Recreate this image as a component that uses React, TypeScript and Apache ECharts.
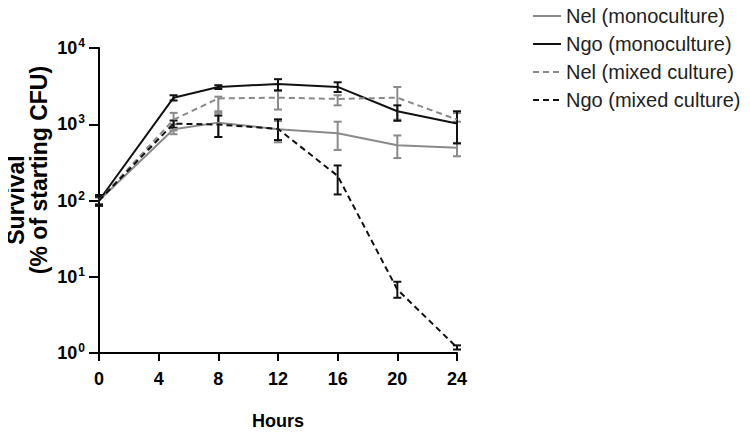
import React, { useEffect, useRef } from "react";
import * as echarts from "echarts";

const hours = [0, 5, 8, 12, 16, 20, 24];
const xTicks = [0, 4, 8, 12, 16, 20, 24];

const nelMono = [100, 860, 1050, 860, 760, 532, 490];
const nelMonoLow = [90, 740, 680, 580, 460, 360, 380];
const nelMonoHigh = [110, 1000, 1400, 1100, 1080, 713, 570];

const ngoMono = [100, 2230, 3080, 3380, 3090, 1480, 1020];
const ngoMonoLow = [85, 2050, 2900, 2780, 2650, 1110, 560];
const ngoMonoHigh = [118, 2400, 3250, 3900, 3550, 1770, 1480];

const nelMixed = [100, 1150, 2180, 2230, 2150, 2230, 1150];
const nelMixedLow = [90, 830, 1480, 1560, 1770, 1150, 1080];
const nelMixedHigh = [110, 1410, 2300, 2750, 2400, 3080, 1400];

const ngoMixed = [100, 1020, 990, 870, 210, 6.8, 1.18];
const ngoMixedLow = [88, 900, 680, 620, 120, 5.3, 1.11];
const ngoMixedHigh = [112, 1120, 1300, 1160, 288, 8.6, 1.26];

const seriesNames = [
  "Nel (monoculture)",
  "Ngo (monoculture)",
  "Nel (mixed culture)",
  "Ngo (mixed culture)",
];
const yTitleLines = ["Survival", "(% of starting CFU)"];

const GREY = "#8a8a8a";
const BLACK = "#111111";
const FONT = "Liberation Sans, Arial, sans-serif";

function errSeries(low: number[], high: number[], color: string) {
  return {
    type: "custom",
    silent: true,
    z: 3,
    data: hours.map((h, i) => [h, low[i], high[i]]),
    renderItem: (params: any, api: any) => {
      const x = api.value(0);
      const lo = api.coord([x, api.value(1)]);
      const hi = api.coord([x, api.value(2)]);
      const w = 4;
      const style = { stroke: color, lineWidth: 2, fill: "none" };
      return {
        type: "group",
        children: [
          { type: "line", shape: { x1: lo[0], y1: lo[1], x2: hi[0], y2: hi[1] }, style },
          { type: "line", shape: { x1: lo[0] - w, y1: lo[1], x2: lo[0] + w, y2: lo[1] }, style },
          { type: "line", shape: { x1: hi[0] - w, y1: hi[1], x2: hi[0] + w, y2: hi[1] }, style },
        ],
      };
    },
  };
}

function lineSeries(name: string, vals: number[], color: string, dashed: boolean) {
  return {
    name,
    type: "line",
    data: hours.map((h, i) => [h, vals[i]]),
    symbol: "none",
    z: 4,
    lineStyle: {
      color,
      width: 2,
      type: dashed ? [6, 4] : "solid",
    },
    itemStyle: { color },
  };
}

export default function App() {
  const ref = useRef<HTMLDivElement>(null);
  useEffect(() => {
    if (!ref.current) return;
    const chart = echarts.init(ref.current, undefined, { renderer: "svg" });
    const titleFont = `bold 23px ${FONT}`;
    chart.setOption({
      animation: false,
      textStyle: { fontFamily: FONT },
      grid: { left: 99, right: 293, top: 48, bottom: 72 },
      legend: {
        orient: "vertical",
        left: 532,
        top: 6,
        padding: 0,
        itemWidth: 28,
        itemHeight: 14,
        itemGap: 8,
        data: seriesNames,
        itemStyle: { opacity: 0 },
        textStyle: { fontSize: 20, color: "#222", fontFamily: FONT },
      },
      graphic: [
        {
          type: "text",
          x: 15.5,
          y: 200,
          rotation: Math.PI / 2,
          style: {
            text: yTitleLines[0],
            font: titleFont,
            fill: "#000",
            align: "center",
            verticalAlign: "middle",
          },
        },
        {
          type: "text",
          x: 39,
          y: 170,
          rotation: Math.PI / 2,
          style: {
            text: yTitleLines[1],
            font: titleFont,
            fill: "#000",
            align: "center",
            verticalAlign: "middle",
          },
        },
      ],
      xAxis: {
        type: "value",
        min: 0,
        max: 24,
        interval: 4,
        name: "Hours",
        nameLocation: "middle",
        nameGap: 59,
        nameTextStyle: { fontSize: 18, fontWeight: "bold", color: "#000" },
        axisLine: { lineStyle: { color: "#000", width: 2 } },
        axisTick: { length: 8, lineStyle: { color: "#000", width: 2 } },
        axisLabel: {
          fontSize: 18,
          fontWeight: "bold",
          color: "#000",
          margin: 17,
          customValues: xTicks,
        },
        splitLine: { show: false },
      },
      yAxis: {
        type: "log",
        logBase: 10,
        min: 1,
        max: 10000,
        axisLine: { show: true, lineStyle: { color: "#000", width: 2 } },
        axisTick: { show: true, length: 10, lineStyle: { color: "#000", width: 2 } },
        axisLabel: {
          margin: 14,
          formatter: (v: number) => `{b|10}{s|${Math.round(Math.log10(v))}}`,
          rich: {
            b: { fontSize: 18, fontWeight: "bold", color: "#000", fontFamily: FONT },
            s: {
              fontSize: 12,
              fontWeight: "bold",
              color: "#000",
              fontFamily: FONT,
              padding: [0, 0, 10, 1],
            },
          },
        },
        splitLine: { show: false },
        minorTick: { show: false },
      },
      series: [
        lineSeries(seriesNames[0], nelMono, GREY, false),
        lineSeries(seriesNames[1], ngoMono, BLACK, false),
        lineSeries(seriesNames[2], nelMixed, GREY, true),
        lineSeries(seriesNames[3], ngoMixed, BLACK, true),
        errSeries(nelMonoLow, nelMonoHigh, GREY),
        errSeries(nelMixedLow, nelMixedHigh, GREY),
        errSeries(ngoMonoLow, ngoMonoHigh, BLACK),
        errSeries(ngoMixedLow, ngoMixedHigh, BLACK),
      ],
    });
    return () => chart.dispose();
  }, []);
  return <div ref={ref} style={{ width: 750, height: 435, margin: -8 }} />;
}
